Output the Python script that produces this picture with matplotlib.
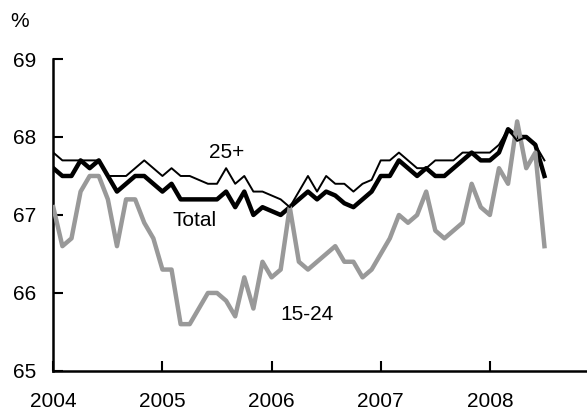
import numpy as np
import matplotlib
matplotlib.use("Agg")
import matplotlib.pyplot as plt

plt.rcParams['font.family'] = ['Liberation Sans', 'DejaVu Sans']

# monthly participation rates, Jan 2004 - Jul 2008
start_year = 2004
total = [67.6, 67.5, 67.5, 67.7, 67.6, 67.7, 67.5, 67.3, 67.4, 67.5,
         67.5, 67.4, 67.3, 67.4, 67.2, 67.2, 67.2, 67.2, 67.2, 67.3,
         67.1, 67.3, 67.0, 67.1, 67.05, 67.0, 67.1, 67.2, 67.3, 67.2,
         67.3, 67.25, 67.15, 67.1, 67.2, 67.3, 67.5, 67.5, 67.7, 67.6,
         67.5, 67.6, 67.5, 67.5, 67.6, 67.7, 67.8, 67.7, 67.7, 67.8,
         68.1, 68.0, 68.0, 67.9, 67.5]
age25 = [67.8, 67.7, 67.7, 67.7, 67.7, 67.7, 67.5, 67.5, 67.5, 67.6,
         67.7, 67.6, 67.5, 67.6, 67.5, 67.5, 67.45, 67.4, 67.4, 67.6,
         67.4, 67.5, 67.3, 67.3, 67.25, 67.2, 67.1, 67.3, 67.5, 67.3,
         67.5, 67.4, 67.4, 67.3, 67.4, 67.45, 67.7, 67.7, 67.8, 67.7,
         67.6, 67.6, 67.7, 67.7, 67.7, 67.8, 67.8, 67.8, 67.8, 67.9,
         68.1, 67.95, 68.0, 67.9, 67.7]
age15_24 = [67.1, 66.6, 66.7, 67.3, 67.5, 67.5, 67.2, 66.6, 67.2, 67.2,
            66.9, 66.7, 66.3, 66.3, 65.6, 65.6, 65.8, 66.0, 66.0, 65.9,
            65.7, 66.2, 65.8, 66.4, 66.2, 66.3, 67.1, 66.4, 66.3, 66.4,
            66.5, 66.6, 66.4, 66.4, 66.2, 66.3, 66.5, 66.7, 67.0, 66.9,
            67.0, 67.3, 66.8, 66.7, 66.8, 66.9, 67.4, 67.1, 67.0, 67.6,
            67.4, 68.2, 67.6, 67.8, 66.6]
years = [2004, 2005, 2006, 2007, 2008]
yticks = [65, 66, 67, 68, 69]

t = start_year + np.arange(len(total)) / 12.0

fig = plt.figure(figsize=(5.87, 4.11), dpi=100)
ax = fig.add_axes([0.0908, 0.0975, 0.9092, 0.7589])

ax.plot(t, total, color='black', lw=3.2, solid_joinstyle='round', zorder=3)
ax.plot(t, age15_24, color='#999999', lw=3.2, zorder=4)
ax.plot(t, age25, color='black', lw=1.4, zorder=5)

ax.set_xlim(2004, 2008.89)
ax.set_ylim(65, 69)
ax.set_xticks(years)
ax.set_yticks(yticks)
for s in ['top', 'right']:
    ax.spines[s].set_visible(False)
for s in ['left', 'bottom']:
    ax.spines[s].set_linewidth(1.8)
ax.tick_params(axis='both', direction='in', length=7, width=1.5,
               labelsize=15)
ax.tick_params(axis='x', pad=15)
ax.tick_params(axis='y', pad=12)

ax.text(2005.43, 67.73, '25+', fontsize=15)
ax.text(2005.09, 66.86, 'Total', fontsize=15)
ax.text(2006.08, 65.65, '15-24', fontsize=15)
fig.text(0.018, 0.935, '%', fontsize=15)

fig.savefig('out.png', dpi=100)
